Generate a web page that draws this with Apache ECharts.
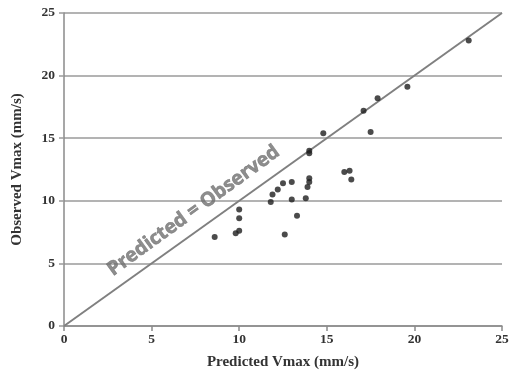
<!DOCTYPE html>
<html><head><meta charset="utf-8">
<script src="https://cdn.jsdelivr.net/npm/echarts@6/dist/echarts.min.js"></script>
<style>html,body{margin:0;padding:0;background:#fff}#c{width:520px;height:375px}</style>
</head><body><div id="c"></div>
<script>
const predicted = [8.6, 9.8, 10.0, 10.0, 10.0, 11.8, 11.9, 12.2, 12.5, 13.0, 13.0, 13.3, 12.6, 13.8, 13.9, 14.0, 14.0, 14.0, 14.0, 14.8, 16.0, 16.3, 16.4, 17.1, 17.5, 17.9, 19.6, 23.1];
const observed  = [7.1, 7.4, 7.6, 8.6, 9.3, 9.9, 10.5, 10.9, 11.4, 11.5, 10.1, 8.8, 7.3, 10.2, 11.1, 11.5, 11.8, 13.8, 14.0, 15.4, 12.3, 12.4, 11.7, 17.2, 15.5, 18.2, 19.1, 22.8];
const identityLine = [[0, 0], [25, 25]];
const identityText = 'Predicted = Observed';
const identityTextAt = [7.4, 9.2];
const ticks = [0, 5, 10, 15, 20, 25];

const pts = predicted.map((p, i) => [p, observed[i]]);
const serif = '"Liberation Serif", "Times New Roman", serif';
const axisCommon = {
  min: 0, max: 25, interval: 5,
  axisLine: { show: true, lineStyle: { color: '#8a8a8a', width: 1.5 } },
  axisTick: { show: true, length: 5, lineStyle: { color: '#8a8a8a', width: 1.5 } },
  axisLabel: { color: '#333', fontFamily: serif, fontWeight: 'bold', fontSize: 13.5 },
  nameLocation: 'middle',
  nameTextStyle: { color: '#333', fontFamily: serif, fontWeight: 'bold', fontSize: 15 }
};
const chart = echarts.init(document.getElementById('c'));
chart.setOption({
  animation: false,
  backgroundColor: '#fff',
  grid: { left: 64, right: 18, top: 13, bottom: 49 },
  xAxis: Object.assign({}, axisCommon, {
    type: 'value', name: 'Predicted Vmax (mm/s)', nameGap: 29,
    splitLine: { show: false },
    axisLabel: Object.assign({}, axisCommon.axisLabel, { margin: 7 })
  }),
  yAxis: Object.assign({}, axisCommon, {
    type: 'value', name: 'Observed Vmax (mm/s)', nameGap: 39,
    axisTick: { show: true, length: 5, lineStyle: { color: '#9a9a9a', width: 1.5 } },
    splitLine: { show: true, lineStyle: { color: '#9a9a9a', width: 1.5 } },
    axisLabel: Object.assign({}, axisCommon.axisLabel, { margin: 9 })
  }),
  series: [
    { type: 'line', data: identityLine, symbol: 'none', silent: true,
      lineStyle: { color: '#808080', width: 2 }, z: 2 },
    { type: 'scatter', data: pts, symbolSize: 6,
      itemStyle: { color: '#1e1e1e' }, z: 3 },
    { type: 'scatter', data: [identityTextAt], symbolSize: 0, silent: true,
      label: { show: true, position: 'inside', formatter: identityText, rotate: 36,
        color: '#707070', fontFamily: '"Open Sans", Lato, sans-serif', fontWeight: 'bold', fontSize: 19.5,
        textBorderColor: '#707070', textBorderWidth: 0.6 } }
  ]
});
</script></body></html>
